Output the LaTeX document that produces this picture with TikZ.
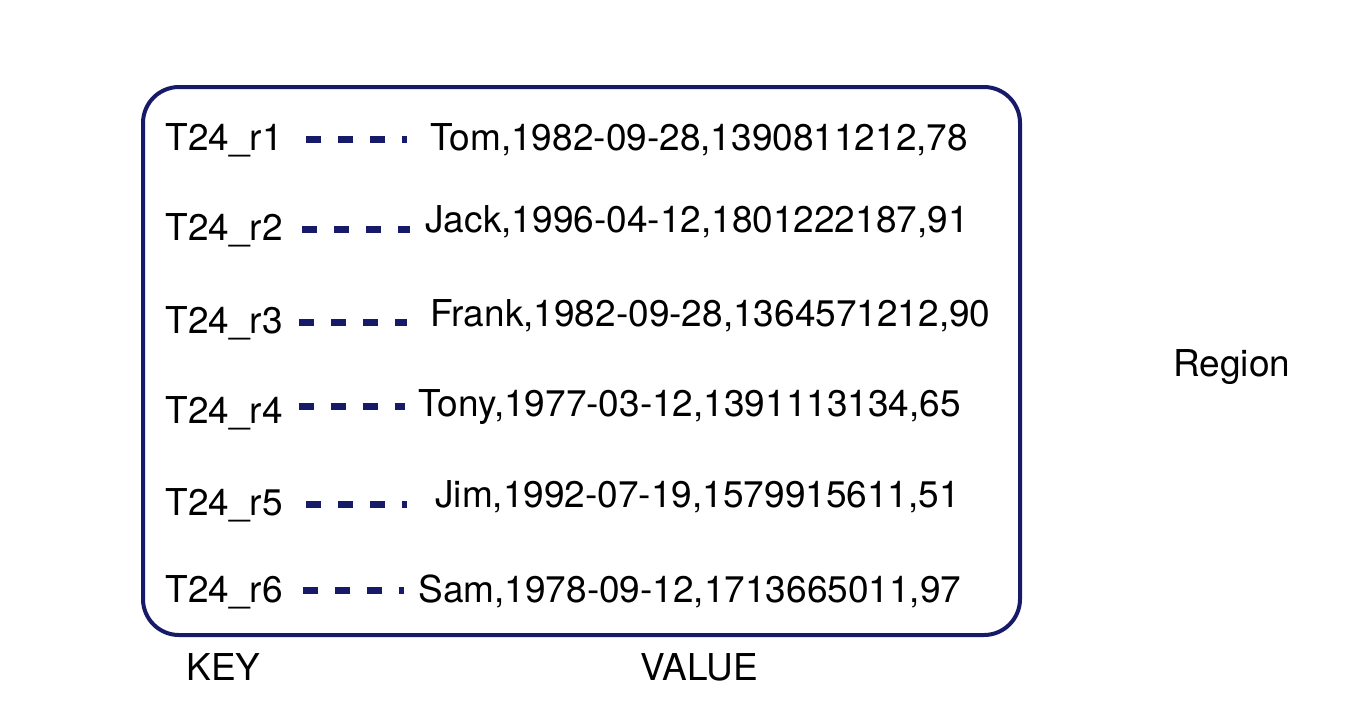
\documentclass[tikz,border=0pt]{standalone}
\usepackage{fontspec}
\setmainfont{TeX Gyre Heros}
\usetikzlibrary{calc}
\definecolor{navy}{RGB}{22,26,105}
\tikzset{
  region/.style = {draw=navy, line width=2pt, rounded corners=18pt},
  txt/.style    = {anchor=base west, inner sep=0pt, text=black,
                   font=\fontsize{18.5}{22}\selectfont},
  link/.style   = {draw=navy, line width=3.5pt, dash pattern=on 7.5pt off 8.5pt},
}

\begin{document}
\begin{tikzpicture}[x=0.5pt, y=-0.5pt]
  \useasboundingbox (0,0) rectangle (1363,708);
  % the region box
  \draw[region] (143,87) rectangle (1020,635);
  % keys
  \node[txt] (k1) at (165,150) {T24\_r1};
  \node[txt] (k2) at (165,240) {T24\_r2};
  \node[txt] (k3) at (165,333) {T24\_r3};
  \node[txt] (k4) at (165,423) {T24\_r4};
  \node[txt] (k5) at (165,515) {T24\_r5};
  \node[txt] (k6) at (165,602) {T24\_r6};
  % values
  \node[txt] (v1) at (430,150) {Tom,1982-09-28,1390811212,78};
  \node[txt] (v2) at (425,232) {Jack,1996-04-12,1801222187,91};
  \node[txt] (v3) at (430,326) {Frank,1982-09-28,1364571212,90};
  \node[txt] (v4) at (418,416) {Tony,1977-03-12,1391113134,65};
  \node[txt] (v5) at (435,507) {Jim,1992-07-19,1579915611,51};
  \node[txt] (v6) at (418,602) {Sam,1978-09-12,1713665011,97};
  % labels
  \node[txt] (key)   at (186,680)  {KEY};
  \node[txt] (value) at (640,680)  {VALUE};
  \node[txt] (reg)   at (1173,376) {Region};
  % key -- value links
  \draw[link, shorten <=11.5pt, shorten >=11.5pt] (k1.east) -- (k1.east -| v1.west);
  \draw[link, shorten <=9.5pt,  shorten >=7.5pt]  (k2.east) -- (k2.east -| v2.west);
  \draw[link, shorten <=8pt,    shorten >=11.5pt] (k3.east) -- (k3.east -| v3.west);
  \draw[link, shorten <=8pt,    shorten >=6.5pt]  (v4.west -| k4.east) -- (v4.west);
  \draw[link, shorten <=11.5pt, shorten >=14pt]   (k5.east) -- (k5.east -| v5.west);
  \draw[link, shorten <=10pt,   shorten >=7pt]    (v6.west -| k6.east) -- (v6.west);
\end{tikzpicture}
\end{document}
